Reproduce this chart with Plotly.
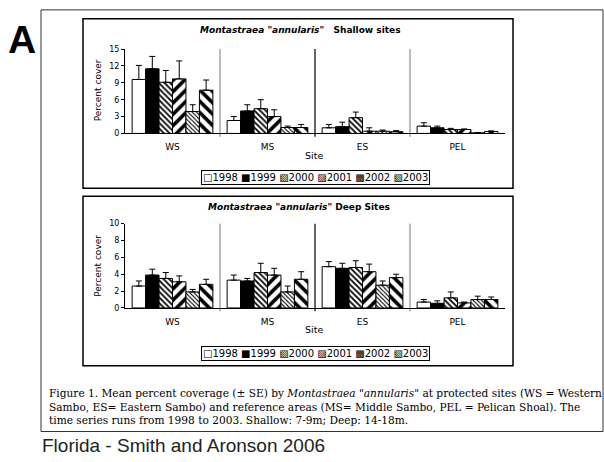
import plotly.graph_objects as go

W, H = 604, 462

sites = ["WS", "MS", "ES", "PEL"]
years = ["1998", "1999", "2000", "2001", "2002", "2003"]

# Shallow sites: mean percent cover per year for WS, MS, ES, PEL
shallow_mean = {
    "1998": [9.6, 2.3, 1.0, 1.3],
    "1999": [11.5, 4.0, 1.2, 1.0],
    "2000": [9.1, 4.4, 2.8, 0.7],
    "2001": [9.7, 3.0, 0.4, 0.7],
    "2002": [3.9, 1.05, 0.4, 0.1],
    "2003": [7.7, 1.05, 0.3, 0.35],
}
# upper standard error
shallow_se = {
    "1998": [2.5, 0.7, 0.6, 0.6],
    "1999": [2.2, 1.1, 0.8, 0.3],
    "2000": [2.1, 1.6, 1.0, 0.2],
    "2001": [3.2, 1.2, 0.6, 0.1],
    "2002": [1.2, 0.25, 0.2, 0.05],
    "2003": [1.8, 0.55, 0.2, 0.1],
}
# Deep sites
deep_mean = {
    "1998": [2.6, 3.3, 4.9, 0.7],
    "1999": [3.9, 3.2, 4.7, 0.55],
    "2000": [3.5, 4.2, 4.8, 1.2],
    "2001": [3.1, 3.9, 4.3, 0.6],
    "2002": [1.9, 1.9, 2.7, 1.0],
    "2003": [2.8, 3.4, 3.6, 1.0],
}
deep_se = {
    "1998": [0.6, 0.6, 0.6, 0.3],
    "1999": [0.7, 0.3, 0.6, 0.3],
    "2000": [0.7, 1.1, 0.8, 0.7],
    "2001": [0.7, 0.8, 0.9, 0.1],
    "2002": [0.3, 0.7, 0.5, 0.4],
    "2003": [0.6, 0.9, 0.4, 0.3],
}
legend_symbols = ["□", "■", "▧", "▨", "▩", "▧"]

patterns = {
    "1998": dict(shape="", color="white"),
    "1999": dict(shape="", color="black"),
    "2000": dict(shape="\\", size=4, solidity=0.45),
    "2001": dict(shape="/", size=8, solidity=0.45),
    "2002": dict(shape="\\", size=3, solidity=0.35),
    "2003": dict(shape="\\", size=8, solidity=0.45),
}


def px(x):
    return x / W


def py(y):
    return 1 - y / H


fig = go.Figure()

for axis_id, means, ses in [("", shallow_mean, shallow_se), ("2", deep_mean, deep_se)]:
    for yr in years:
        p = patterns[yr]
        if p["shape"]:
            marker = dict(color="white", line=dict(color="black", width=1),
                          pattern=dict(shape=p["shape"], size=p["size"], solidity=p["solidity"],
                                       fgcolor="black", bgcolor="white", fillmode="replace"))
        else:
            marker = dict(color=p["color"], line=dict(color="black", width=1))
        fig.add_trace(go.Bar(
            x=sites, y=means[yr], name=yr, marker=marker, showlegend=False,
            error_y=dict(type="data", array=ses[yr], arrayminus=[0] * len(sites),
                         symmetric=False, color="black", thickness=1, width=3),
            xaxis="x" + axis_id, yaxis="y" + axis_id,
        ))

tickfont = dict(family="DejaVu Sans", size=9, color="black")
xcommon = dict(domain=[px(125), px(505)], range=[-0.5, 3.5], showline=True, linecolor="black",
               linewidth=1, ticks="", tickfont=tickfont, ticklabelstandoff=5, showgrid=False,
               zeroline=False)
ycommon = dict(showline=True, linecolor="black", linewidth=1, ticks="outside", ticklen=3,
               tickcolor="black", tickfont=dict(family="DejaVu Sans", size=8, color="black"),
               showgrid=False, zeroline=False)

fig.update_layout(
    width=W, height=H, margin=dict(l=0, r=0, t=0, b=0),
    paper_bgcolor="white", plot_bgcolor="white",
    barmode="group", bargap=0.15, bargroupgap=0,
    xaxis=dict(**xcommon, anchor="y"),
    yaxis=dict(**ycommon, domain=[py(132), py(46)], range=[0, 15], dtick=3, anchor="x"),
    xaxis2=dict(**xcommon, anchor="y2"),
    yaxis2=dict(**ycommon, domain=[py(310), py(224)], range=[0, 10], dtick=2, anchor="x2"),
)

shapes = []
# outer frame and chart boxes
shapes.append(dict(type="rect", xref="paper", yref="paper", x0=px(41), x1=px(603),
                   y0=py(436), y1=py(6), line=dict(color="#333", width=1)))
for top, bot in [(15, 188), (196, 369)]:
    shapes.append(dict(type="rect", xref="paper", yref="paper", x0=px(83), x1=px(513),
                       y0=py(bot), y1=py(top), line=dict(color="black", width=1.5)))
# category separators
for xr, yr in [("x", "y"), ("x2", "y2")]:
    for i, s in enumerate([0.5, 1.5, 2.5]):
        shapes.append(dict(type="line", xref=xr, yref=yr + " domain", x0=s, x1=s,
                           y0=-0.04, y1=1.0,
                           line=dict(color="black" if i == 1 else "#555", width=1.2 if i == 1 else 0.8)))
fig.update_layout(shapes=shapes)

ann = []


def add_text(text, x, y, size, family="DejaVu Sans", xanchor="center", angle=0, color="black", **kw):
    ann.append(dict(text=text, x=px(x), y=py(y), xref="paper", yref="paper", showarrow=False,
                    xanchor=xanchor, yanchor="middle", textangle=angle,
                    font=dict(family=family, size=size, color=color), **kw))


# Panel letter
add_text("<b>A</b>", 22, 36, 39, family="Liberation Sans")
# chart titles
add_text("<b><i>Montastraea \"annularis\"</i>&nbsp;&nbsp; Shallow sites</b>", 300, 27, 9)
add_text("<b><i>Montastraea \"annularis\"</i> Deep Sites</b>", 299, 207, 9)
# axis titles
for yc, xt in [(88, 155), (267, 332)]:
    add_text("Percent cover", 98, yc, 9, angle=-90)
    add_text("Site", 314, xt, 9.5)
# legends
legend_text = " ".join(s + y for s, y in zip(legend_symbols, years))
for ly in [176.5, 356.5]:
    add_text(legend_text, 315, ly, 10, bordercolor="black", borderwidth=1, borderpad=1)
# caption
caption = [
    ("Figure 1. Mean percent coverage (± SE) by <i>Montastraea \"annularis\"</i> at protected sites (WS = Western", 397),
    ("Sambo, ES= Eastern Sambo) and reference areas (MS= Middle Sambo, PEL = Pelican Shoal). The", 410.5),
    ("time series runs from 1998 to 2003. Shallow: 7-9m; Deep: 14-18m.", 424),
]
for txt, yy in caption:
    add_text(txt, 47, yy, 10.6, family="DejaVu Serif", xanchor="left")
# footer
add_text("Florida - Smith and Aronson 2006", 40, 450, 19, family="Liberation Sans",
         xanchor="left", color="#222")
fig.update_layout(annotations=ann)

fig.write_html("out.html", config={"displayModeBar": False},
               post_script="document.body.style.margin='0px';")
